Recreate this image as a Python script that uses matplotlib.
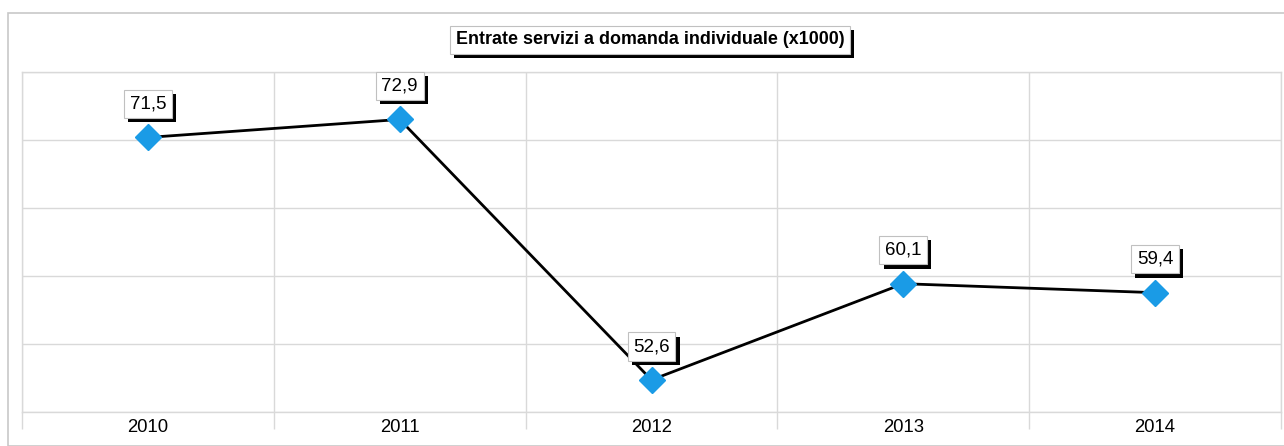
import matplotlib
matplotlib.use("Agg")
import matplotlib.pyplot as plt
import matplotlib.patheffects as pe
from matplotlib.patches import Rectangle
import numpy as np

years = ["2010", "2011", "2012", "2013", "2014"]
values = [71.5, 72.9, 52.6, 60.1, 59.4]
value_labels = ["71,5", "72,9", "52,6", "60,1", "59,4"]
title = "Entrate servizi a domanda individuale (x1000)"

plt.rcParams["font.family"] = ["Liberation Sans", "DejaVu Sans"]

W, H = 1284, 446
fig = plt.figure(figsize=(W / 100, H / 100), dpi=100)
fig.patch.set_facecolor("white")

# outer chart frame
fig.add_artist(Rectangle((8 / W, 0), (W - 8) / W + 0.01, (H - 13) / H,
                         transform=fig.transFigure, fill=False,
                         edgecolor="#c8c8c8", linewidth=1.2, clip_on=False))

ax = fig.add_axes([22 / W, (H - 412) / H, (1281 - 22) / W, (412 - 72) / H])
x = np.arange(len(years))
ymin, ymax = 50.1, 76.6
ax.set_xlim(-0.5, len(years) - 0.5)
ax.set_ylim(ymin, ymax)

grid_c = "#d9d9d9"
ax.set_yticks(np.linspace(ymin, ymax, 6))
ax.set_yticklabels([])
ax.tick_params(axis="y", length=0)
ax.set_xticks(x)
ax.set_xticklabels(years, fontsize=13.3)
ax.tick_params(axis="x", which="major", length=0, pad=5)
ax.set_xticks(np.arange(-0.5, len(years)), minor=True)
ax.tick_params(axis="x", which="minor", length=12, color=grid_c, width=1)
ax.grid(True, axis="y", color=grid_c, linewidth=1)
ax.grid(True, axis="x", which="minor", color=grid_c, linewidth=1)
for s in ax.spines.values():
    s.set_color(grid_c)
    s.set_linewidth(1)
ax.set_axisbelow(True)

ax.plot(x, values, color="black", linewidth=2.0, zorder=3)
ax.plot(x, values, linestyle="none", marker="D", markersize=13,
        markerfacecolor="#1a9be6", markeredgecolor="#1a9be6", zorder=4)

shadow = [pe.withSimplePatchShadow(offset=(3, -3), shadow_rgbFace="black", alpha=1.0)]
for xi, v, lab in zip(x, values, value_labels):
    t = ax.annotate(lab, (xi, v), xytext=(0, 24), textcoords="offset points",
                    ha="center", va="center", fontsize=13.5, zorder=5,
                    bbox=dict(boxstyle="square,pad=0.3", facecolor="white",
                              edgecolor="#c0c0c0", linewidth=0.8))
    t.get_bbox_patch().set_path_effects(shadow)

tt = fig.text(650 / W, (H - 40) / H, title, ha="center", va="center",
              fontsize=12.9, fontweight="bold",
              bbox=dict(boxstyle="square,pad=0.3", facecolor="white",
                        edgecolor="#c0c0c0", linewidth=0.8))
tt.get_bbox_patch().set_path_effects(shadow)

fig.savefig("out.png", dpi=100)
